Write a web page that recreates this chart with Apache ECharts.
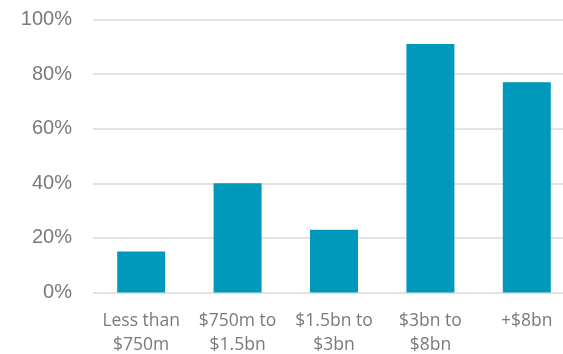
<!DOCTYPE html>
<html>
<head>
<meta charset="utf-8">
<script src="https://cdn.jsdelivr.net/npm/echarts@6/dist/echarts.min.js"></script>
<style>
  html, body { margin: 0; padding: 0; background: #fff; }
  #chart { width: 563px; height: 354px; }
</style>
</head>
<body>
<div id="chart"></div>
<script>
// Share of respondents by company size band
const categories = ['Less than\n$750m', '$750m to\n$1.5bn', '$1.5bn to\n$3bn', '$3bn to\n$8bn', '+$8bn'];
const shares = [15, 40, 23, 91, 77];
const yTicks = [0, 20, 40, 60, 80, 100];

const chart = echarts.init(document.getElementById('chart'), null, { renderer: 'canvas' });
chart.setOption({
  animation: false,
  grid: { left: 93, top: 19.5, width: 482, height: 273, containLabel: false, outerBoundsMode: 'none' },
  xAxis: {
    type: 'category',
    data: categories,
    axisLine: { show: false },
    axisTick: { show: false },
    axisLabel: {
      color: '#7a7a7a',
      fontFamily: 'Open Sans',
      fontSize: 17.5,
      lineHeight: 24,
      margin: 17,
      interval: 0
    }
  },
  yAxis: {
    type: 'value',
    min: yTicks[0],
    max: yTicks[yTicks.length - 1],
    interval: 20,
    axisLine: { show: false },
    axisTick: { show: false },
    splitLine: { lineStyle: { color: '#d9d9d9', width: 1.5 } },
    axisLabel: {
      color: '#7a7a7a',
      fontFamily: 'Liberation Sans',
      fontSize: 20,
      margin: 21,
      formatter: v => v + '%'
    }
  },
  series: [{
    type: 'bar',
    data: shares,
    barWidth: 48,
    itemStyle: { color: '#0099bc' }
  }]
});
</script>
</body>
</html>
